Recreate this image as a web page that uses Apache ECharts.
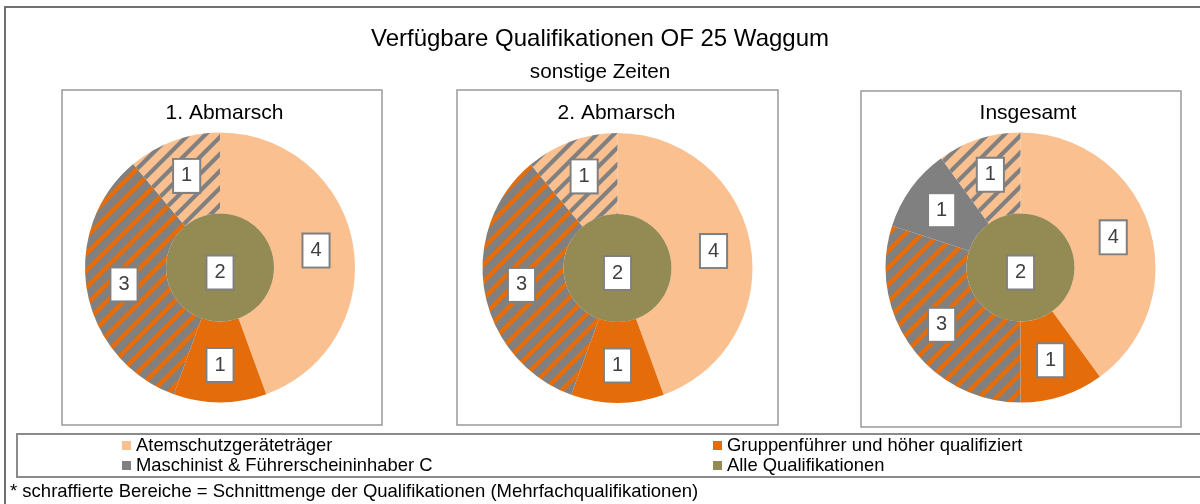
<!DOCTYPE html>
<html>
<head>
<meta charset="utf-8">
<script src="https://cdn.jsdelivr.net/npm/echarts@6/dist/echarts.min.js"></script>
<style>html,body{margin:0;padding:0;background:#fff}#c{width:1200px;height:504px}</style>
</head>
<body>
<div id="c"></div>
<script>
// ---- data ----
var categories = [
  'Atemschutzgeräteträger',
  'Gruppenführer und höher qualifiziert',
  'Gruppenführer & Maschinist (schraffiert)',
  'Maschinist & Führerscheininhaber C',
  'Atemschutzgeräteträger & Maschinist (schraffiert)'
];
var panelTitles = ['1. Abmarsch', '2. Abmarsch', 'Insgesamt'];
var abmarsch1 = [4, 1, 3, 0, 1];
var abmarsch2 = [4, 1, 3, 0, 1];
var insgesamt = [4, 1, 3, 1, 1];
var alleQualifikationen = [2, 2, 2];
var innerName = 'Alle Qualifikationen';

// ---- styles ----
var FONT = 'Liberation Sans, Arial, sans-serif';
var LIGHT = '#FAC090', DARK = '#E46C0A', GREY = '#808080', OLIVE = '#948A54';
function stripes(bg, fg, w) {
  var P = 17, c = document.createElement('canvas');
  c.width = P; c.height = P;
  var g = c.getContext('2d');
  g.fillStyle = bg; g.fillRect(0, 0, P, P);
  g.strokeStyle = fg; g.lineWidth = w;
  g.beginPath();
  g.moveTo(-P, P); g.lineTo(P, -P);
  g.moveTo(0, P); g.lineTo(P, 0);
  g.moveTo(0, 2 * P); g.lineTo(2 * P, 0);
  g.stroke();
  return {image: c, repeat: 'repeat'};
}
var sliceColors = [LIGHT, DARK, stripes(GREY, DARK, 4.6), GREY, stripes(LIGHT, GREY, 4.2)];

var panels = [abmarsch1, abmarsch2, insgesamt];
var centers = [[220, 267.5], [617.5, 268], [1020.5, 267.5]];
var titleX = [224.5, 616.5, 1028];
var boxes = [[62, 90, 320, 335], [457, 90, 321, 335], [861, 91, 320, 336]];

var labelStyle = {
  show: true, position: 'inside', formatter: '{c}',
  fontFamily: FONT, fontSize: 20, color: '#404040', lineHeight: 20,
  backgroundColor: '#fff', borderColor: '#808080', borderWidth: 2,
  padding: [6, 7, 6, 7]
};

var series = [];
panels.forEach(function (vals, p) {
  var data = [];
  vals.forEach(function (v, i) {
    if (v > 0) data.push({name: categories[i], value: v, itemStyle: {color: sliceColors[i]}});
  });
  series.push({
    type: 'pie', center: centers[p], radius: [54, 135], startAngle: 90, clockwise: true,
    avoidLabelOverlap: false, silent: true, animation: false,
    label: labelStyle, labelLine: {show: false},
    itemStyle: {borderWidth: 0},
    emphasis: {disabled: true},
    data: data
  });
  series.push({
    type: 'pie', center: centers[p], radius: [0, 54], startAngle: 90,
    silent: true, animation: false,
    label: Object.assign({}, labelStyle, {position: 'center', offset: [0, 5]}),
    labelLine: {show: false}, emphasis: {disabled: true},
    data: [{name: innerName, value: alleQualifikationen[p], itemStyle: {color: OLIVE}}]
  });
});

var titles = [
  {text: 'Verfügbare Qualifikationen OF 25 Waggum', left: 'center', top: 22,
   textStyle: {fontFamily: FONT, fontSize: 24, fontWeight: 'normal', color: '#000'}},
  {text: 'sonstige Zeiten', left: 'center', top: 57,
   textStyle: {fontFamily: FONT, fontSize: 20.7, fontWeight: 'normal', color: '#000'}},
  {text: '* schraffierte Bereiche = Schnittmenge der Qualifikationen (Mehrfachqualifikationen)',
   left: 10, top: 482, padding: 0,
   textStyle: {fontFamily: FONT, fontSize: 18.5, fontWeight: 'normal', color: '#000'}}
];
panelTitles.forEach(function (t, p) {
  titles.push({text: t, left: titleX[p], top: 103, textAlign: 'center', padding: 0,
    textStyle: {fontFamily: FONT, fontSize: 21, fontWeight: 'normal', color: '#000'}});
});

var graphics = [
  {type: 'rect', shape: {x: 5, y: 7, width: 1200, height: 510}, style: {fill: 'none', stroke: '#707070', lineWidth: 2}, silent: true},
  {type: 'rect', shape: {x: 17, y: 434, width: 1200, height: 43}, style: {fill: 'none', stroke: '#8a8a8a', lineWidth: 2}, silent: true}
];
boxes.forEach(function (b) {
  graphics.push({type: 'rect', shape: {x: b[0], y: b[1], width: b[2], height: b[3]},
    style: {fill: 'none', stroke: '#9a9a9a', lineWidth: 1.5}, silent: true});
});

var legendText = {fontFamily: FONT, fontSize: 18.4, color: '#000', lineHeight: 19};
var option = {
  backgroundColor: '#fff',
  animation: false,
  title: titles,
  graphic: graphics,
  legend: [
    {orient: 'vertical', left: 122, top: 436, padding: 0, itemGap: 1, itemWidth: 9, itemHeight: 9,
     icon: 'rect', selectedMode: false, textStyle: legendText,
     data: [categories[0], categories[3]]},
    {orient: 'vertical', left: 713, top: 436, padding: 0, itemGap: 1, itemWidth: 9, itemHeight: 9,
     icon: 'rect', selectedMode: false, textStyle: legendText,
     data: [categories[1], innerName]}
  ],
  series: series
};
var chart = echarts.init(document.getElementById('c'), null, {renderer: 'canvas'});
chart.setOption(option);
</script>
</body>
</html>
